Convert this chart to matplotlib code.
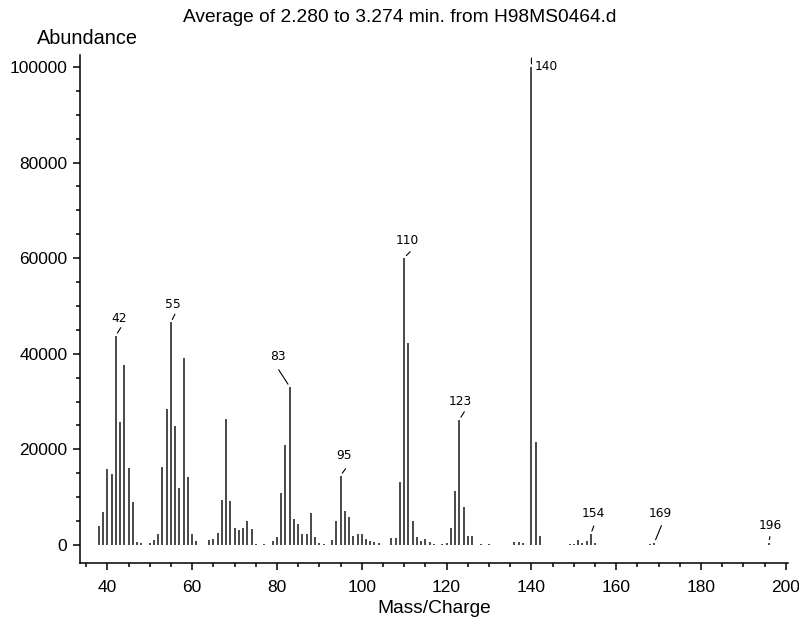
import matplotlib
matplotlib.use("Agg")
import matplotlib.pyplot as plt
from matplotlib.ticker import MultipleLocator

# m/z values and their abundances
mz = [38, 39, 40, 41, 42, 43, 44, 45, 46, 47, 48, 50, 51, 52, 53, 54, 55, 56, 57, 58,
      59, 60, 61, 64, 65, 66, 67, 68, 69, 70, 71, 72, 73, 74, 75, 77, 79, 80, 81, 82,
      83, 84, 85, 86, 87, 88, 89, 90, 91, 93, 94, 95, 96, 97, 98, 99, 100, 101, 102, 103,
      104, 107, 108, 109, 110, 111, 112, 113, 114, 115, 116, 117, 119, 120, 121, 122, 123, 124, 125, 126,
      128, 130, 136, 137, 138, 140, 141, 142, 149, 150, 151, 152, 153, 154, 155, 168, 169, 196]
abundance = [4000, 7000, 15800, 14800, 43800, 25800, 37700, 16200, 8900, 600, 500, 400, 1000, 2200, 16400, 28500, 46600, 24900, 12000, 39200,
             14200, 2200, 800, 1000, 1300, 2600, 9500, 26300, 9200, 3500, 3100, 3600, 5000, 3400, 300, 300, 800, 1700, 10900, 20900,
             33100, 5500, 4400, 2200, 2200, 6700, 1600, 500, 300, 1000, 5100, 14500, 7100, 5900, 1800, 2300, 2400, 1200, 900, 700,
             400, 1500, 1500, 13200, 60100, 42200, 5100, 1600, 800, 1200, 700, 300, 300, 500, 3600, 11300, 26200, 8000, 1800, 1800,
             300, 300, 700, 600, 500, 100000, 21500, 1800, 300, 300, 1000, 500, 900, 2300, 400, 300, 500, 500]

# labelled peaks
labelled = [42, 55, 83, 95, 110, 123, 140, 154, 169, 196]
# leader end offset, text offset (pixels) for each labelled peak
leader_end = {42: (5, 8), 55: (4, 8), 83: (-11, 17), 95: (5, 7), 110: (6, 6),
              123: (5, 8), 140: (0, 9), 154: (3, 8), 169: (7, 17), 196: (1, 6)}
text_off = {42: (3, 17), 55: (2, 18), 83: (-12, 30), 95: (3, 20), 110: (3, 17),
            123: (1, 18), 140: (3, 0), 154: (3, 20), 169: (6, 29), 196: (1, 17)}

fig = plt.figure(figsize=(7.99, 6.23), dpi=100)
ax = fig.add_axes([80 / 799, 1 - 563 / 623, 708 / 799, 508 / 623])

ax.vlines(mz, 0, abundance, color="#2a2a2a", linewidth=1.2)

for m in labelled:
    h = abundance[mz.index(m)]
    ax.annotate("", xy=(m, h), xycoords="data",
                xytext=leader_end[m], textcoords="offset pixels",
                arrowprops=dict(arrowstyle="-", color="black", lw=0.8,
                                shrinkA=0, shrinkB=2.2))
    ha = "left" if m == 140 else "center"
    ax.annotate(str(m), xy=(m, h), xycoords="data",
                xytext=text_off[m], textcoords="offset pixels",
                ha=ha, va="center", fontsize=8.8, family="DejaVu Sans")

ax.set_xlim(33.56, 200.5)
ax.set_ylim(-3770, 102510)
ax.xaxis.set_major_locator(MultipleLocator(20))
ax.xaxis.set_minor_locator(MultipleLocator(5))
ax.yaxis.set_major_locator(MultipleLocator(20000))
ax.yaxis.set_minor_locator(MultipleLocator(5000))

for s in ["top", "right"]:
    ax.spines[s].set_visible(False)
for s in ["left", "bottom"]:
    ax.spines[s].set_linewidth(1.1)

ax.tick_params(which="major", length=5, width=1.1, direction="out")
ax.tick_params(which="minor", length=3, width=1.1, direction="out")
ax.tick_params(axis="x", which="major", pad=7)
ax.tick_params(axis="y", which="major", pad=4)
for lab in ax.get_xticklabels() + ax.get_yticklabels():
    lab.set_family("Liberation Sans")
    lab.set_fontsize(12.5)

fig.text(400 / 799, 1 - 17 / 623, "Average of 2.280 to 3.274 min. from H98MS0464.d",
         ha="center", va="center", fontsize=13.8, family="Liberation Sans")
fig.text(87 / 799, 1 - 38 / 623, "Abundance", ha="center", va="center",
         fontsize=14.3, family="Liberation Sans")
fig.text(434 / 799, 1 - 613 / 623, "Mass/Charge", ha="center", va="baseline",
         fontsize=13.8, family="Liberation Sans")

fig.savefig("out.png", dpi=100)
